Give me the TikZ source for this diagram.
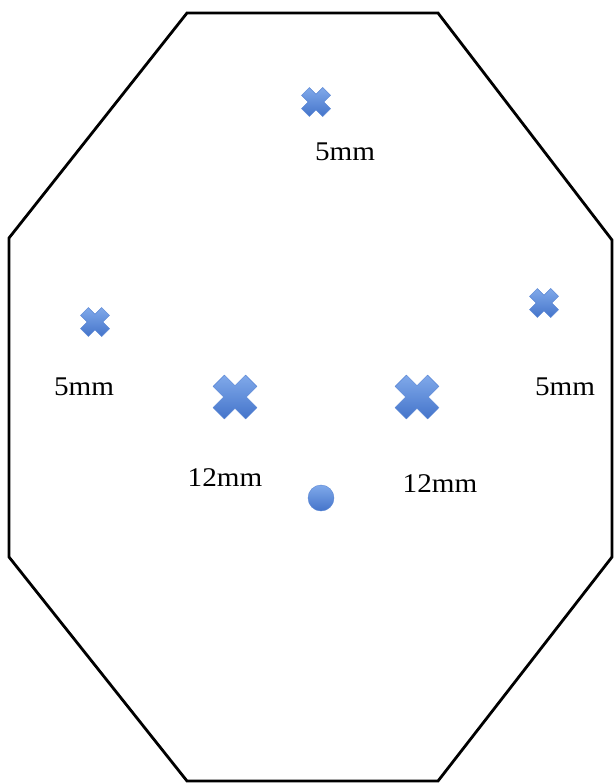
\documentclass[tikz,border=0pt]{standalone}
\usepackage{fontspec}
\setmainfont[FakeStretch=1.08]{Liberation Serif}
\definecolor{crosstop}{HTML}{80A9EA}
\definecolor{crossbot}{HTML}{4474CA}
\definecolor{crossedge}{HTML}{5A86D4}
\tikzset{
  x=1pt,y=-1pt,
  label text/.style={font=\fontsize{27}{30}\selectfont, inner sep=0pt},
  outline/.style={draw=black, line width=2.8pt, line join=miter},
  blueshade/.style={top color=crosstop, bottom color=crossbot, draw=crossedge, line width=0.4pt},
  pics/xmark/.style args={#1/#2}{code={
    \path[blueshade, rotate=45]
      (#1,#2)--(#1,#1)--(#2,#1)--(#2,-#1)--(#1,-#1)--(#1,-#2)--(-#1,-#2)--(-#1,-#1)--(-#2,-#1)--(-#2,#1)--(-#1,#1)--(-#1,#2)--cycle;
  }}
}
\begin{document}
\begin{tikzpicture}
\useasboundingbox (0,0) rectangle (613,784);
\draw[outline] (187,13)--(438,13)--(612,240)--(612,557)--(438,781)--(187,781)--(9,557)--(9,238)--cycle;
% small crosses
\pic at (316,102) {xmark=5.5/15};
\pic at (95,322) {xmark=5.5/15};
\pic at (544,303) {xmark=5.5/15};
% large crosses
\pic at (235,397) {xmark=8/23};
\pic at (417,397) {xmark=8/23};
% dot
\path[blueshade] (321,498) circle (13);
% labels
\node[label text] (l1) at (345,152) {5mm};
\node[label text] (l2) at (84,387) {5mm};
\node[label text] (l3) at (565,387) {5mm};
\node[label text] (l4) at (225,478) {12mm};
\node[label text] (l5) at (440,484) {12mm};
\end{tikzpicture}
\end{document}
